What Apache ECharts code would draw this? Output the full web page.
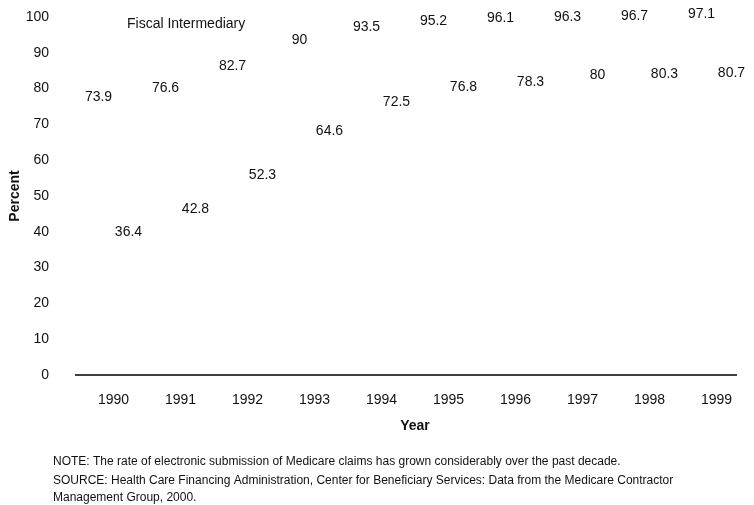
<!DOCTYPE html>
<html>
<head>
<meta charset="utf-8">
<script src="https://cdn.jsdelivr.net/npm/echarts@6/dist/echarts.min.js"></script>
<style>
  html, body { margin: 0; padding: 0; background: #fff; }
  #chart { width: 754px; height: 505px; }
</style>
</head>
<body>
<div id="chart"></div>
<script>
var years = ['1990', '1991', '1992', '1993', '1994', '1995', '1996', '1997', '1998', '1999']
var fiscalIntermediary = [73.9, 76.6, 82.7, 90, 93.5, 95.2, 96.1, 96.3, 96.7, 97.1]
var carrier = [36.4, 42.8, 52.3, 64.6, 72.5, 76.8, 78.3, 80, 80.3, 80.7]
var yTicks = [0, 10, 20, 30, 40, 50, 60, 70, 80, 90, 100]

var font = 'Liberation Sans, Arial, Helvetica, sans-serif'

var chart = echarts.init(document.getElementById('chart'))
chart.setOption({
  animation: false,
  textStyle: { fontFamily: font },
  legend: {
    data: ['Fiscal Intermediary'],
    icon: 'none',
    itemWidth: 0,
    left: 117,
    top: 12,
    textStyle: { fontSize: 14, color: '#111', fontFamily: font }
  },
  grid: { left: 80, right: 4, top: 17, bottom: 130, outerBoundsMode: 'none' },
  xAxis: {
    type: 'category',
    data: years,
    name: 'Year',
    nameLocation: 'middle',
    nameGap: 44,
    nameMoveOverlap: false,
    nameTextStyle: { fontSize: 14, fontWeight: 'bold', color: '#111', fontFamily: font },
    axisLine: { show: false },
    axisTick: { show: false },
    axisLabel: { fontSize: 14, color: '#111', margin: 18, fontFamily: font }
  },
  yAxis: {
    type: 'value',
    min: yTicks[0],
    max: yTicks[yTicks.length - 1],
    interval: 10,
    name: 'Percent',
    nameLocation: 'middle',
    nameGap: 58,
    nameMoveOverlap: false,
    nameTextStyle: { fontSize: 14, fontWeight: 'bold', color: '#111', fontFamily: font },
    axisLine: { show: false },
    axisTick: { show: false },
    splitLine: { show: false },
    axisLabel: { fontSize: 14, color: '#111', margin: 31, fontFamily: font }
  },
  series: [{
    name: 'Fiscal Intermediary',
    type: 'bar',
    data: fiscalIntermediary,
    barWidth: 28,
    barGap: '7%',
    itemStyle: { color: 'rgba(255,255,255,0)' },
    label: { show: true, position: 'top', distance: 6, fontSize: 14, color: '#111', fontFamily: font }
  }, {
    name: 'Carrier',
    type: 'bar',
    data: carrier,
    barWidth: 28,
    itemStyle: { color: 'rgba(255,255,255,0)' },
    label: { show: true, position: 'top', distance: 6, fontSize: 14, color: '#111', fontFamily: font }
  }],
  graphic: [{
    type: 'line',
    shape: { x1: 75, y1: 375, x2: 737, y2: 375 },
    style: { stroke: '#000', lineWidth: 1.5 }
  }, {
    type: 'text',
    left: 53,
    top: 456,
    style: {
      text: 'NOTE: The rate of electronic submission of Medicare claims has grown considerably over the past decade.',
      font: '12px ' + font,
      fill: '#111'
    }
  }, {
    type: 'text',
    left: 53,
    top: 472,
    style: {
      text: 'SOURCE: Health Care Financing Administration, Center for Beneficiary Services: Data from the Medicare Contractor\nManagement Group, 2000.',
      font: '12px ' + font,
      lineHeight: 17,
      fill: '#111'
    }
  }]
})
</script>
</body>
</html>
